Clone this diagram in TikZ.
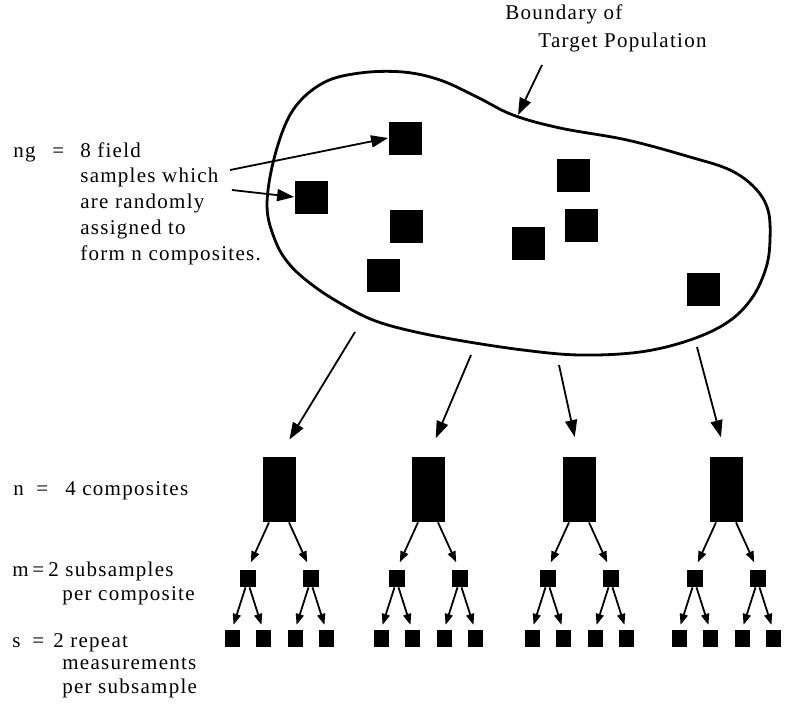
\documentclass[tikz,border=0pt]{standalone}
\usepackage{fontspec}
\setmainfont{Liberation Serif}[LetterSpace=6]
\usetikzlibrary{arrows.meta}

\begin{document}
\begin{tikzpicture}[x=0.5pt,y=-0.5pt,
    lbl/.style={anchor=base west,inner sep=0,font=\fontsize{10.5}{12.85}\selectfont},
    fieldsq/.style={fill=black,inner sep=0,minimum size=16.5pt},
    comp/.style={fill=black,inner sep=0,minimum width=16.5pt,minimum height=32.5pt},
    subsq/.style={fill=black,inner sep=0,minimum width=8pt,minimum height=8.5pt},
    meas/.style={fill=black,inner sep=0,minimum width=7.5pt,minimum height=8.5pt},
    poparrow/.style={line width=0.9pt,-{Triangle[length=8.5pt,width=6pt]}},
    treearrow/.style={line width=0.9pt,-{Triangle[length=5.5pt,width=4pt]}}]
  \useasboundingbox (0,0) rectangle (794,707);

  % target population
  \draw[line width=1.4pt] plot[smooth cycle,tension=0.6] coordinates {
    (267,205) (275,155) (293,110) (323,83) (360,73) (403,72) (440,80)
    (477,97) (513,115) (560,128) (627,140) (690,157) (730,170) (755,188)
    (768,210) (770,240) (766,268) (752,298) (728,322) (690,340) (640,352)
    (580,355) (523,350) (457,340) (407,330) (373,320) (345,306) (315,287)
    (290,265) (275,240)};

  \node[fieldsq] (f1) at (405,138) {};
  \node[fieldsq] (f2) at (311,197) {};
  \node[fieldsq] (f3) at (406,226) {};
  \node[fieldsq] (f4) at (383,275) {};
  \node[fieldsq] (f5) at (573,175) {};
  \node[fieldsq] (f6) at (581,225) {};
  \node[fieldsq] (f7) at (528,243) {};
  \node[fieldsq] (f8) at (703,289) {};

  \node[lbl] (bnd1) at (505,19) {Boundary of};
  \node[lbl] (bnd2) at (538,47) {Target Population};
  \coordinate (bndtail) at (542,65);
  \coordinate (bndtip) at (518,115);
  \draw[poparrow] (bndtail) -- (bndtip);

  % field samples
  \node[lbl] (ngkey) at (13,157) {ng};
  \node[lbl] (ngeq) at (52,157) {=};
  \node[lbl,align=left] (ngtext) at (80,260) {8 field\\samples which\\are randomly\\assigned to\\form n composites.};
  \coordinate (nga) at (230,170);
  \coordinate (ngb) at (232,190);
  \draw[poparrow] (nga) -- (f1.west);
  \draw[poparrow] (ngb) -- (f2.west);

  % composites, subsamples, measurements
  \foreach \x/\sx/\sy [count=\i] in {279/355/332,428/471/355,579/559/365,726/697/347} {
    \node[comp] (c\i) at (\x,489.5) {};
    \coordinate (t\i) at (\sx,\sy);
    \draw[poparrow,shorten >=10pt] (t\i) -- (c\i.north);
    \node[subsq] (c\i-a) at (\x-31.5,578.5) {};
    \node[subsq] (c\i-b) at (\x+31.5,578.5) {};
    \draw[treearrow,shorten >=4pt] ([xshift=-5pt]c\i.south) -- (c\i-a.north);
    \draw[treearrow,shorten >=4pt] ([xshift=5pt]c\i.south) -- (c\i-b.north);
    \foreach \s in {a,b} {
      \node[meas] (c\i-\s-1) at ([xshift=-7.75pt,yshift=-30pt]c\i-\s) {};
      \node[meas] (c\i-\s-2) at ([xshift=7.75pt,yshift=-30pt]c\i-\s) {};
      \draw[treearrow,shorten >=2.5pt] ([xshift=-1pt]c\i-\s.south) -- (c\i-\s-1.north);
      \draw[treearrow,shorten >=2.5pt] ([xshift=1pt]c\i-\s.south) -- (c\i-\s-2.north);
    }
  }

  \node[lbl] (nkey) at (13,495) {n};
  \node[lbl] (neq) at (36,495) {=};
  \node[lbl] (ntext) at (65,495) {4 composites};
  \node[lbl] (mkey) at (12,576) {m};
  \node[lbl] (meq) at (32,576) {=};
  \node[lbl] (mtext) at (48,576) {2 subsamples};
  \node[lbl] (mtext2) at (62,600) {per composite};
  \node[lbl] (skey) at (12,647) {s};
  \node[lbl] (seq) at (32,647) {=};
  \node[lbl] (stext) at (53,647) {2 repeat};
  \node[lbl] (stext2) at (62,669) {measurements};
  \node[lbl] (stext3) at (62,693) {per subsample};
\end{tikzpicture}
\end{document}
